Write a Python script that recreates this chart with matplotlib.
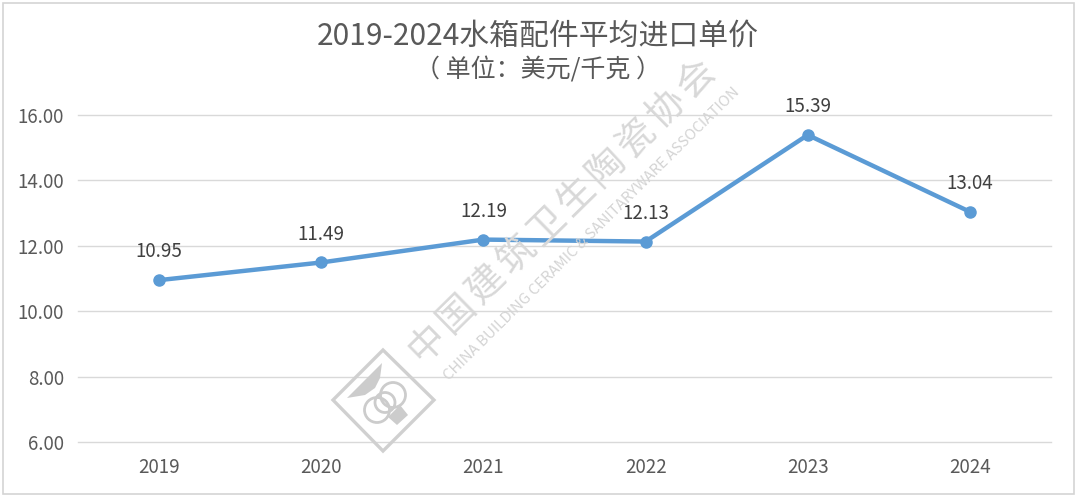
import matplotlib
matplotlib.use('Agg')
import matplotlib.pyplot as plt
from matplotlib.patches import Polygon, Circle, Rectangle
import math

plt.rcParams['font.family'] = ['Noto Sans CJK SC', 'DejaVu Sans']

years = ['2019', '2020', '2021', '2022', '2023', '2024']
prices = [10.95, 11.49, 12.19, 12.13, 15.39, 13.04]
yticks = [6, 8, 10, 12, 14, 16]
title = '2019-2024水箱配件平均进口单价'
subtitle = '（ 单位：美元/千克 ）'
wm_cn = '中国建筑卫生陶瓷协会'
wm_en = 'CHINA BUILDING CERAMIC & SANITARYWARE ASSOCIATION'

W, H = 1080, 498
fig = plt.figure(figsize=(W/100, H/100), dpi=100, facecolor='white')
ax = fig.add_axes([78/W, 1-442/H, (1051-78)/W, (442-115)/H])
ax.set_xlim(-0.5, 5.5)
ax.set_ylim(6, 16)
ax.set_xticks(range(6))
ax.set_xticklabels(years)
ax.set_yticks(yticks)
ax.set_yticklabels([f'{v:.2f}' for v in yticks])
ax.grid(axis='y', color='#d9d9d9', lw=1, clip_on=False)
ax.set_axisbelow(True)
for s in ax.spines.values():
    s.set_visible(False)
ax.tick_params(length=0, labelsize=13.5, labelcolor='#595959')
ax.tick_params(axis='x', pad=11)
ax.tick_params(axis='y', pad=10)
ax.plot(range(6), prices, color='#5b9bd5', lw=3.2, marker='o', ms=8, clip_on=False, zorder=3)
for i, v in enumerate(prices):
    ax.annotate(f'{v:.2f}', (i, v), xytext=(0, 20.3), textcoords='offset points',
                ha='center', va='center', fontsize=13.5, color='#404040', zorder=4)

fig.text(538/W, 1-36/H, title, ha='center', va='center', fontsize=21.5, color='#595959')
fig.text(538/W, 1-70/H, subtitle, ha='center', va='center', fontsize=18, color='#595959')

# watermark
x0, y0, x1, y1 = 427, 343, 696, 79
angle = math.degrees(math.atan2(y0 - y1, x1 - x0))
for k, ch in enumerate(wm_cn):
    t = k / (len(wm_cn) - 1)
    fig.text((x0 + (x1 - x0) * t)/W, 1-(y0 + (y1 - y0) * t)/H, ch, rotation=angle,
             rotation_mode='anchor', ha='center', va='center',
             fontsize=27, fontweight='light', color='#d8d8d8', zorder=5)
fig.text(592/W, 1-234/H, wm_en, rotation=44.7, rotation_mode='anchor', ha='center', va='center',
         fontsize=10.8, fontweight='light', color='#d4d4d4', zorder=5)
ov = fig.add_axes([0, 0, 1, 1], facecolor='none')
ov.set_xlim(0, W); ov.set_ylim(H, 0); ov.axis('off')
ov.add_patch(Polygon([(383, 350), (434, 400), (383, 451), (333, 400)], fill=False, ec='#d0d0d0', lw=2.4))
for cx, cy, r in ((377, 410, 12.5), (393, 395, 12.5), (385, 402.5, 10)):
    ov.add_patch(Circle((cx, cy), r, fill=False, ec='#cccccc', lw=2.0))
ov.add_patch(Polygon([(347, 398), (382, 363), (380, 378), (375, 388), (365, 395)], fc='#cccccc', ec='none'))
ov.add_patch(Polygon([(400, 405), (408, 415), (397, 425), (388, 417)], fc='#cccccc', ec='none'))
ov.add_patch(Rectangle((3, 3), 1071, 491, fill=False, ec='#d4d4d4', lw=1.2))

fig.savefig('out.png', dpi=100)
